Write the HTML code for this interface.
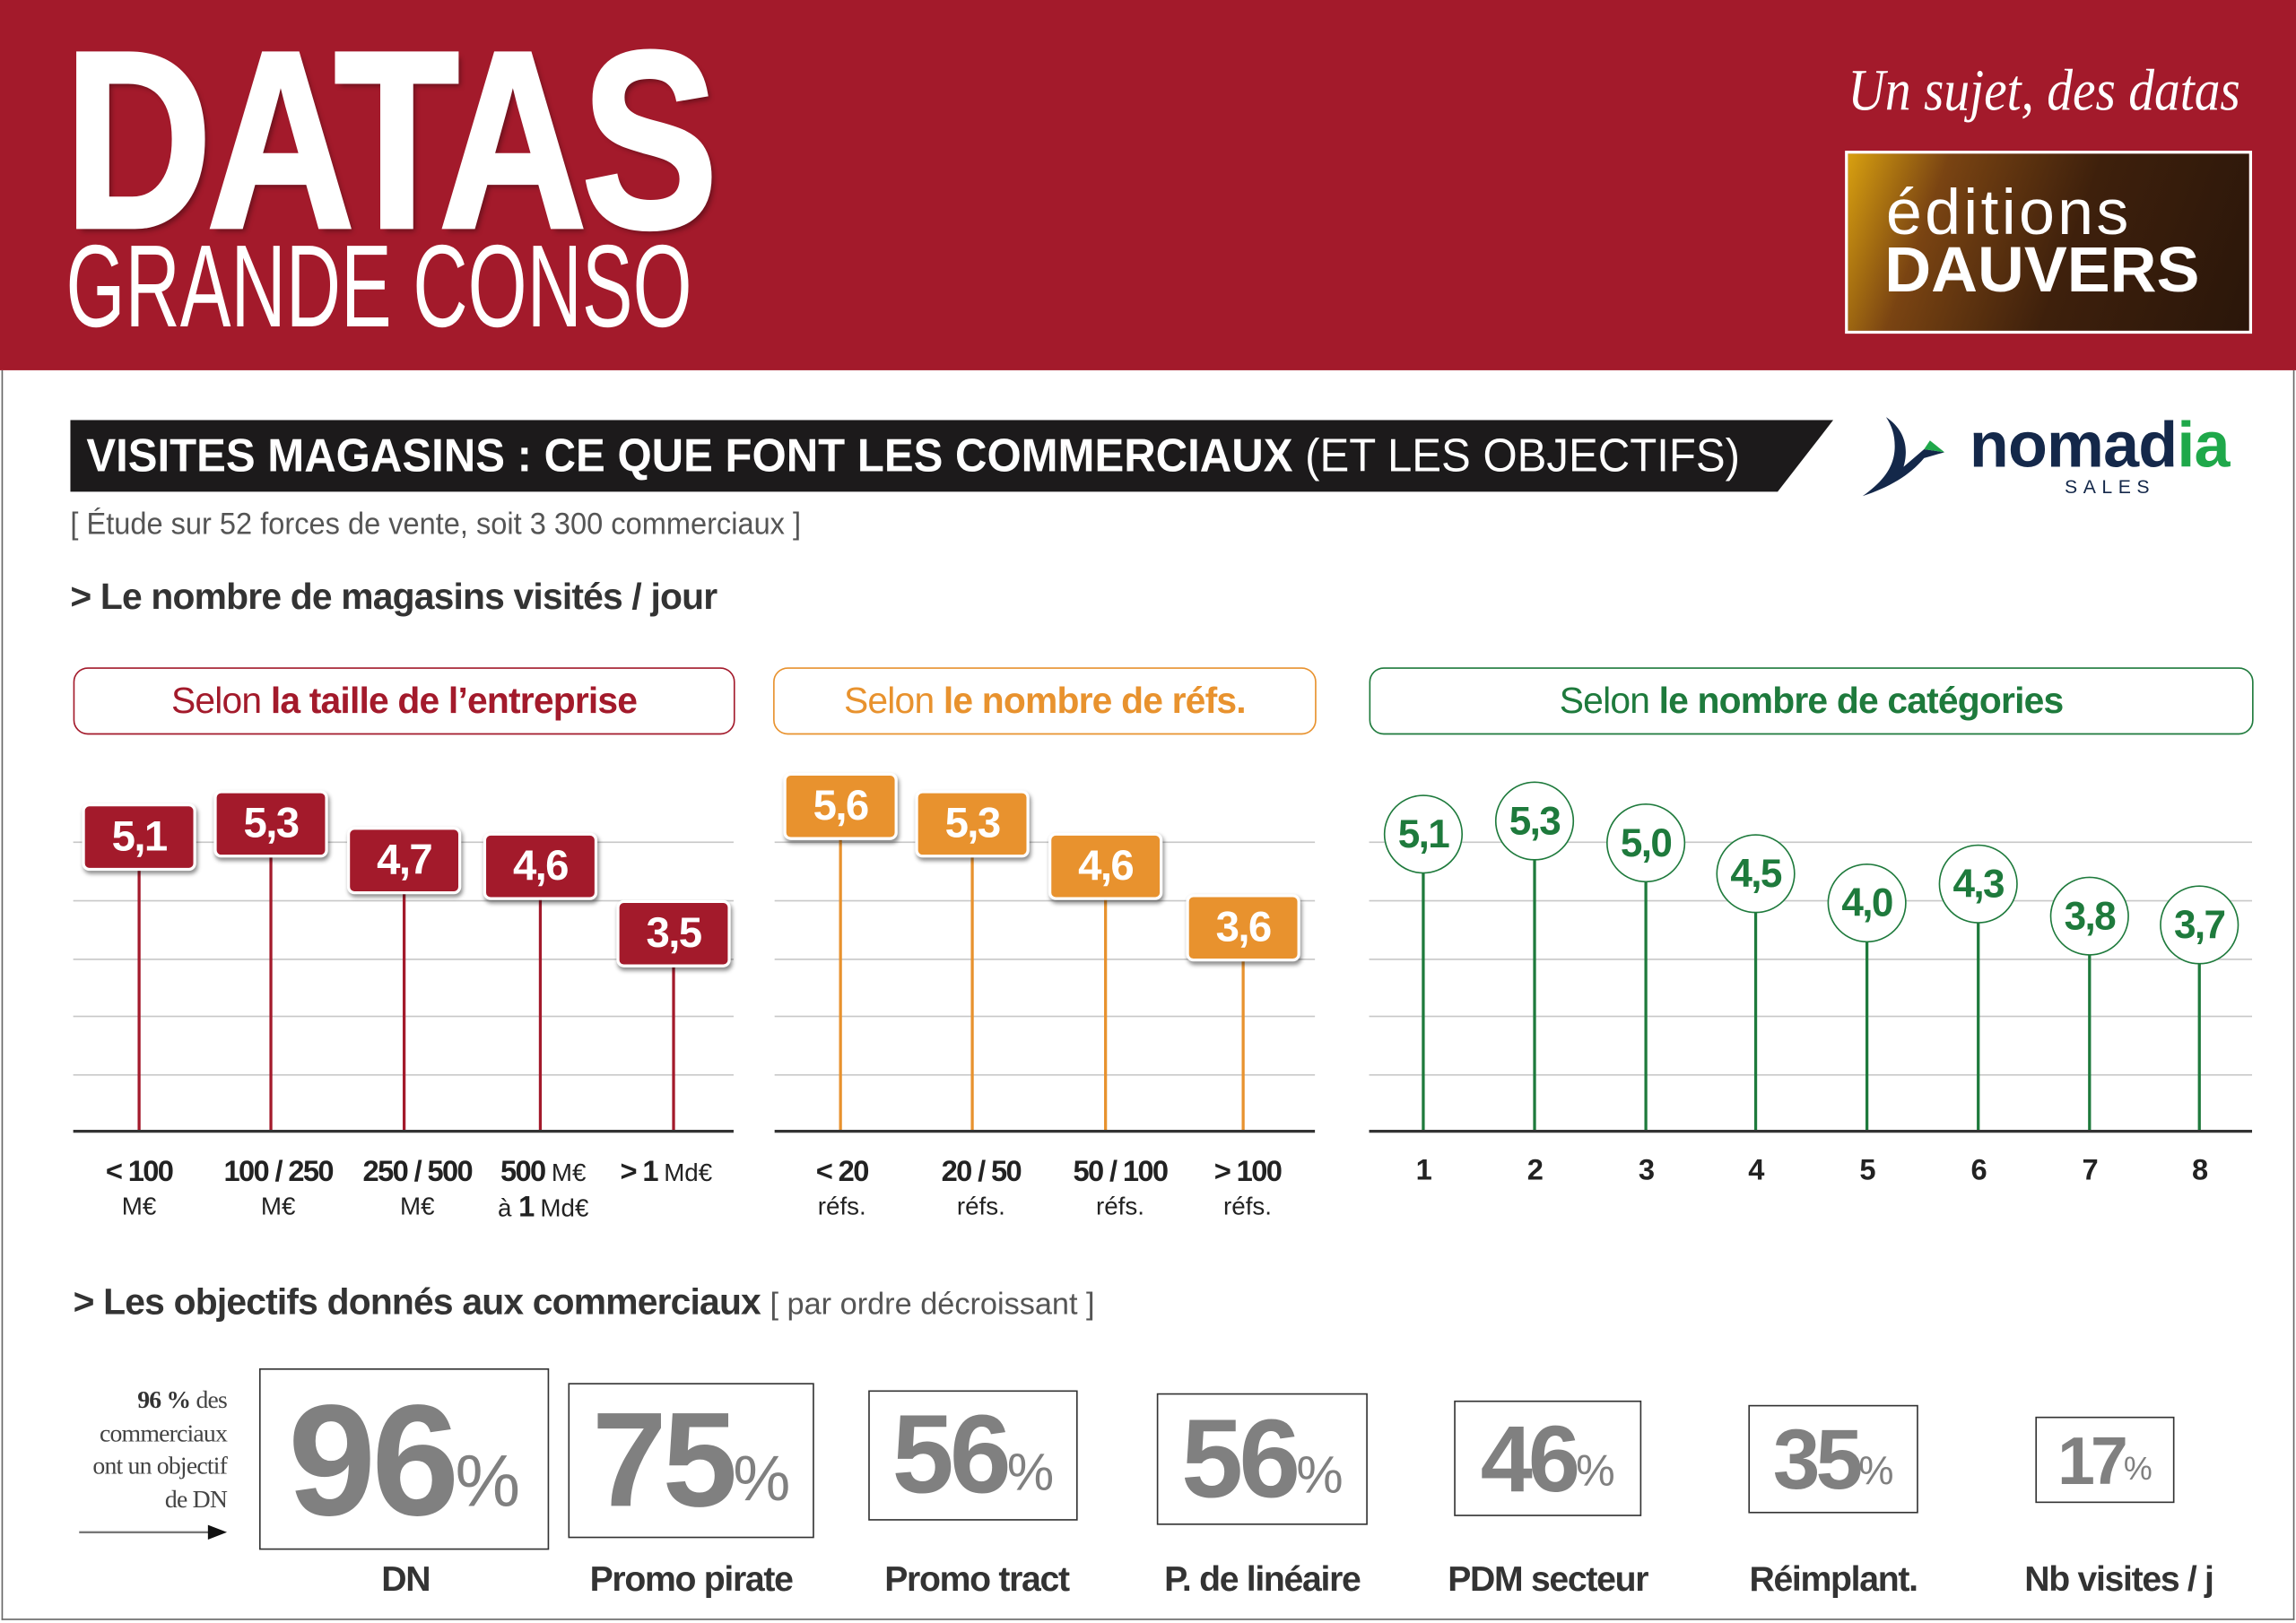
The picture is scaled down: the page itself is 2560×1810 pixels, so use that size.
<!DOCTYPE html>
<html><head><meta charset="utf-8">
<style>
html,body{margin:0;padding:0;background:#fff;}
body{width:2560px;height:1810px;overflow:hidden;position:relative;font-family:"Liberation Sans",sans-serif;}
#w{position:absolute;left:0;top:0;width:1568px;height:1109px;transform:scale(1.63265,1.6321);transform-origin:0 0;}
.a{position:absolute;white-space:nowrap;}
.grid{position:absolute;height:1px;background:#c8c8c8;}
.base{position:absolute;height:2px;background:#333;}
.stem{position:absolute;width:2px;}
.tag{position:absolute;width:74px;height:42px;border-radius:5px;border:2px solid #fff;box-shadow:1px 2px 3px rgba(0,0,0,.45);color:#fff;font-weight:bold;font-size:29px;text-align:center;line-height:42px;transform:translate(-39px,-23px);letter-spacing:-1px;}
.circ{position:absolute;width:52px;height:52px;border-radius:50%;border:1.5px solid #1e7a3c;background:#fff;color:#1e7a3c;font-weight:bold;font-size:27px;text-align:center;line-height:52px;transform:translate(-27px,-27px);letter-spacing:-1px;}
.xl{position:absolute;text-align:center;transform:translateX(-50%);color:#222;line-height:22px;white-space:nowrap;}
.xl b{font-size:20px;letter-spacing:-1px;}
.xl span{font-size:17px;}
.pill{position:absolute;border-radius:10px;background:#fff;text-align:center;font-size:25px;line-height:44px;letter-spacing:-0.5px;}
.ob{position:absolute;border:1.5px solid #333;box-sizing:border-box;color:#808080;font-weight:bold;text-align:center;display:flex;align-items:center;justify-content:center;letter-spacing:-3px;}
.ob i{font-style:normal;font-weight:normal;letter-spacing:0;}
.ol{position:absolute;transform:translateX(-50%);font-weight:bold;font-size:24px;color:#333;letter-spacing:-0.8px;top:1066px;white-space:nowrap;}
</style></head><body><div id="w">
<div class="a" style="left:0;top:0;width:1568px;height:253px;background:#a31a2b;"></div>
<div class="a" style="left:1px;top:253px;width:1564px;height:853px;border:1px solid #666;border-top:none;"></div>
<div class="a" style="left:44px;top:10px;font-size:172px;font-weight:bold;color:#fff;transform:scaleX(0.81);transform-origin:0 0;line-height:172px;letter-spacing:-4px;text-shadow:3px 3px 4px rgba(0,0,0,.35);-webkit-text-stroke:3px #fff;">DATAS</div>
<div class="a" style="left:45px;top:156px;font-size:80px;color:#fff;transform:scaleX(0.65);transform-origin:0 0;line-height:80px;">GRANDE CONSO</div>
<div class="a" style="left:1262px;top:38px;font-family:'Liberation Serif',serif;font-style:italic;font-size:40px;color:#fff;transform:scaleX(0.88);transform-origin:0 0;">Un sujet, des datas</div>
<div class="a" style="left:1260px;top:103px;width:274px;height:121px;border:2px solid #fff;background:linear-gradient(110deg,#d8a010 0%,#7a4412 22%,#3e200c 55%,#2a160a 100%);"></div>
<div class="a" style="left:1288px;top:124px;font-size:44px;color:#fff;line-height:44px;letter-spacing:2px;">éditions</div>
<div class="a" style="left:1287px;top:164px;font-size:44px;font-weight:bold;color:#fff;line-height:42px;">DAUVERS</div>
<svg class="a" style="left:48px;top:287px;" width="1204" height="50"><polygon points="0,0 1204,0 1166,49 0,49" fill="#1c1a1b"/></svg>
<div class="a" style="left:59px;top:290px;font-size:32px;line-height:42px;color:#fff;transform:scaleX(0.94);transform-origin:0 0;"><b>VISITES MAGASINS : CE QUE FONT LES COMMERCIAUX</b> (ET LES OBJECTIFS)</div>
<svg class="a" style="left:1270px;top:283px;" width="65" height="58"><path d="M18,2 C30,10 34,22 30,36 L44,24 L58,26 L44,30 C34,42 20,50 2,56 C16,46 24,36 24,22 C24,14 22,8 18,2Z" fill="#14284a"/><path d="M44,24 L58,26 L48,18Z" fill="#1fa84a"/></svg>
<div class="a" style="left:1345px;top:280px;font-size:44px;font-weight:bold;color:#14284a;letter-spacing:-0.5px;">nomad<span style="color:#1fa84a">ia</span></div>
<div class="a" style="left:1410px;top:325px;font-size:13px;color:#14284a;letter-spacing:4px;">SALES</div>
<div class="a" style="left:48px;top:347px;font-size:21px;color:#555;transform:scaleX(0.95);transform-origin:0 0;">[ Étude sur 52 forces de vente, soit 3 300 commerciaux ]</div>
<div class="a" style="left:48px;top:394px;font-size:25px;font-weight:bold;color:#333;letter-spacing:-0.5px;">&gt; Le nombre de magasins visités / jour</div>

<div class="pill" style="left:50px;top:456px;width:450px;height:44px;border:1.5px solid #a31a2b;color:#a31a2b;"><span>Selon </span><b>la taille de l’entreprise</b></div>
<div class="pill" style="left:528px;top:456px;width:369px;height:44px;border:1.5px solid #e8922e;color:#e8922e;"><span>Selon </span><b>le nombre de réfs.</b></div>
<div class="pill" style="left:935px;top:456px;width:602px;height:44px;border:1.5px solid #1e7a3c;color:#1e7a3c;"><span>Selon </span><b>le nombre de catégories</b></div>

<div class="grid" style="left:50px;top:575px;width:451px;"></div><div class="grid" style="left:50px;top:615px;width:451px;"></div><div class="grid" style="left:50px;top:655px;width:451px;"></div><div class="grid" style="left:50px;top:694px;width:451px;"></div><div class="grid" style="left:50px;top:734px;width:451px;"></div>
<div class="grid" style="left:529px;top:575px;width:369px;"></div><div class="grid" style="left:529px;top:615px;width:369px;"></div><div class="grid" style="left:529px;top:655px;width:369px;"></div><div class="grid" style="left:529px;top:694px;width:369px;"></div><div class="grid" style="left:529px;top:734px;width:369px;"></div>
<div class="grid" style="left:935px;top:575px;width:603px;"></div><div class="grid" style="left:935px;top:615px;width:603px;"></div><div class="grid" style="left:935px;top:655px;width:603px;"></div><div class="grid" style="left:935px;top:694px;width:603px;"></div><div class="grid" style="left:935px;top:734px;width:603px;"></div>

<div class="stem" style="left:94px;top:572px;height:201px;background:#a31a2b"></div>
<div class="stem" style="left:184px;top:563px;height:210px;background:#a31a2b"></div>
<div class="stem" style="left:275px;top:588px;height:185px;background:#a31a2b"></div>
<div class="stem" style="left:368px;top:592px;height:181px;background:#a31a2b"></div>
<div class="stem" style="left:459px;top:638px;height:135px;background:#a31a2b"></div>
<div class="stem" style="left:573px;top:551px;height:222px;background:#e8922e"></div>
<div class="stem" style="left:663px;top:563px;height:210px;background:#e8922e"></div>
<div class="stem" style="left:754px;top:592px;height:181px;background:#e8922e"></div>
<div class="stem" style="left:848px;top:634px;height:139px;background:#e8922e"></div>
<div class="stem" style="left:971px;top:570px;height:203px;background:#1e7a3c"></div>
<div class="stem" style="left:1047px;top:561px;height:212px;background:#1e7a3c"></div>
<div class="stem" style="left:1123px;top:576px;height:197px;background:#1e7a3c"></div>
<div class="stem" style="left:1198px;top:597px;height:176px;background:#1e7a3c"></div>
<div class="stem" style="left:1274px;top:617px;height:156px;background:#1e7a3c"></div>
<div class="stem" style="left:1350px;top:604px;height:169px;background:#1e7a3c"></div>
<div class="stem" style="left:1426px;top:626px;height:147px;background:#1e7a3c"></div>
<div class="stem" style="left:1501px;top:632px;height:141px;background:#1e7a3c"></div>

<div class="base" style="left:50px;top:772px;width:451px;"></div>
<div class="base" style="left:529px;top:772px;width:369px;"></div>
<div class="base" style="left:935px;top:772px;width:603px;"></div>

<div class="tag" style="left:95px;top:572px;background:#a31a2b">5,1</div>
<div class="tag" style="left:185px;top:563px;background:#a31a2b">5,3</div>
<div class="tag" style="left:276px;top:588px;background:#a31a2b">4,7</div>
<div class="tag" style="left:369px;top:592px;background:#a31a2b">4,6</div>
<div class="tag" style="left:460px;top:638px;background:#a31a2b">3,5</div>
<div class="tag" style="left:574px;top:551px;background:#e8922e">5,6</div>
<div class="tag" style="left:664px;top:563px;background:#e8922e">5,3</div>
<div class="tag" style="left:755px;top:592px;background:#e8922e">4,6</div>
<div class="tag" style="left:849px;top:634px;background:#e8922e">3,6</div>

<div class="circ" style="left:972px;top:570px;">5,1</div>
<div class="circ" style="left:1048px;top:561px;">5,3</div>
<div class="circ" style="left:1124px;top:576px;">5,0</div>
<div class="circ" style="left:1199px;top:597px;">4,5</div>
<div class="circ" style="left:1275px;top:617px;">4,0</div>
<div class="circ" style="left:1351px;top:604px;">4,3</div>
<div class="circ" style="left:1427px;top:626px;">3,8</div>
<div class="circ" style="left:1502px;top:632px;">3,7</div>

<div class="xl" style="left:95px;top:790px;"><b>&lt; 100</b><br><span>M€</span></div>
<div class="xl" style="left:190px;top:790px;"><b>100 / 250</b><br><span>M€</span></div>
<div class="xl" style="left:285px;top:790px;"><b>250 / 500</b><br><span>M€</span></div>
<div class="xl" style="left:371px;top:790px;"><b>500</b> <span>M€</span><br><span>à <b>1</b> Md€</span></div>
<div class="xl" style="left:455px;top:790px;"><b>&gt; 1</b> <span>Md€</span></div>
<div class="xl" style="left:575px;top:790px;"><b>&lt; 20</b><br><span>réfs.</span></div>
<div class="xl" style="left:670px;top:790px;"><b>20 / 50</b><br><span>réfs.</span></div>
<div class="xl" style="left:765px;top:790px;"><b>50 / 100</b><br><span>réfs.</span></div>
<div class="xl" style="left:852px;top:790px;"><b>&gt; 100</b><br><span>réfs.</span></div>
<div class="xl" style="left:972px;top:789px;"><b>1</b></div>
<div class="xl" style="left:1048px;top:789px;"><b>2</b></div>
<div class="xl" style="left:1124px;top:789px;"><b>3</b></div>
<div class="xl" style="left:1199px;top:789px;"><b>4</b></div>
<div class="xl" style="left:1275px;top:789px;"><b>5</b></div>
<div class="xl" style="left:1351px;top:789px;"><b>6</b></div>
<div class="xl" style="left:1427px;top:789px;"><b>7</b></div>
<div class="xl" style="left:1502px;top:789px;"><b>8</b></div>

<div class="a" style="left:50px;top:876px;font-size:25px;color:#333;letter-spacing:-0.5px;"><b>&gt; Les objectifs donnés aux commerciaux</b> <span style="font-size:21px;color:#555;letter-spacing:0;">[ par ordre décroissant ]</span></div>

<div class="a" style="right:1413px;top:946px;font-family:'Liberation Serif',serif;font-size:17px;line-height:22.5px;color:#444;text-align:right;letter-spacing:-0.5px;"><b style="color:#333">96 %</b> des<br>commerciaux<br>ont un objectif<br>de DN</div>
<svg class="a" style="left:54px;top:1040px;" width="104" height="14"><line x1="0" y1="7" x2="92" y2="7" stroke="#777" stroke-width="1.5"/><polygon points="88,2 101,7 88,12" fill="#111"/></svg>

<div class="ob" style="left:177px;top:935px;width:198px;height:124px;font-size:108px;">96<i style="font-size:50px;margin-top:30px">%</i></div>
<div class="ob" style="left:388px;top:945px;width:168px;height:106px;font-size:92px;">75<i style="font-size:44px;margin-top:26px">%</i></div>
<div class="ob" style="left:593px;top:950px;width:143px;height:89px;font-size:76px;">56<i style="font-size:36px;margin-top:22px">%</i></div>
<div class="ob" style="left:790px;top:952px;width:144px;height:90px;font-size:76px;">56<i style="font-size:36px;margin-top:22px">%</i></div>
<div class="ob" style="left:993px;top:957px;width:128px;height:79px;font-size:64px;">46<i style="font-size:30px;margin-top:18px">%</i></div>
<div class="ob" style="left:1194px;top:960px;width:116px;height:74px;font-size:58px;">35<i style="font-size:27px;margin-top:16px">%</i></div>
<div class="ob" style="left:1390px;top:968px;width:95px;height:59px;font-size:46px;">17<i style="font-size:22px;margin-top:12px">%</i></div>

<div class="ol" style="left:277px;">DN</div>
<div class="ol" style="left:472px;">Promo pirate</div>
<div class="ol" style="left:667px;">Promo tract</div>
<div class="ol" style="left:862px;">P. de linéaire</div>
<div class="ol" style="left:1057px;">PDM secteur</div>
<div class="ol" style="left:1252px;">Réimplant.</div>
<div class="ol" style="left:1447px;">Nb visites / j</div>
</div></body></html>
